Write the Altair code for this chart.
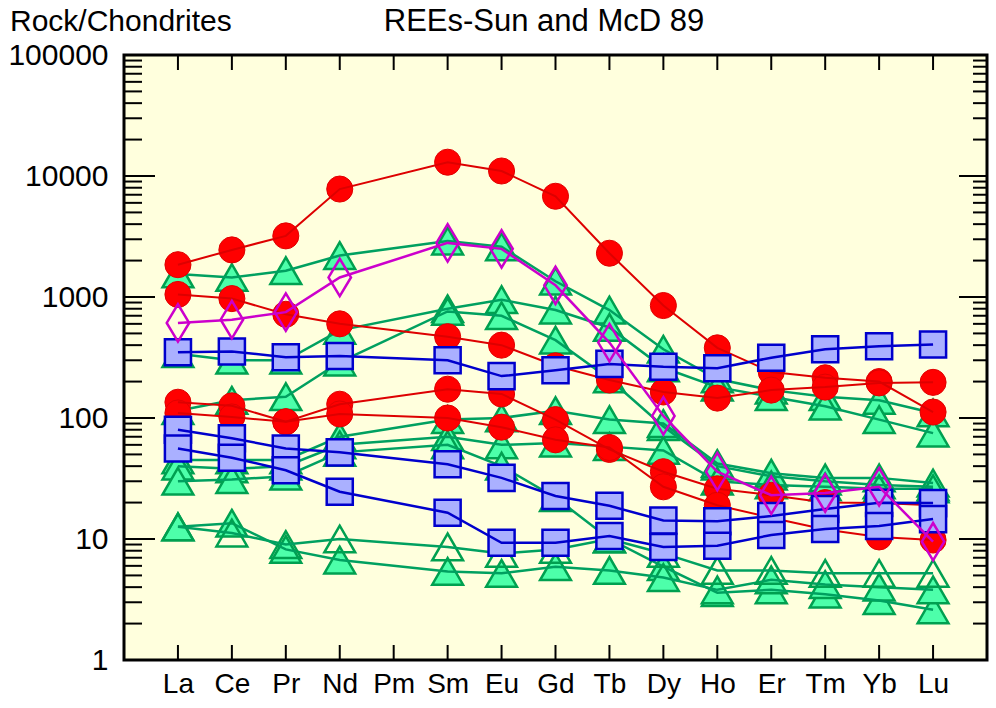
import altair as alt
import pandas as pd

elements = ["La", "Ce", "Pr", "Nd", "Pm", "Sm", "Eu", "Gd", "Tb", "Dy", "Ho", "Er", "Tm", "Yb", "Lu"]

# red circles
red_1 = [1850, 2450, 3200, 7800, None, 13000, 11000, 6800, 2300, 850, 380, 240, 215, 200, 112]
red_2 = [1050, 970, 720, 600, None, 470, 400, 270, 206, 164, 146, 170, 180, 195, 197]
red_3 = [135, 126, 93, 130, None, 173, 158, 97, 55, 36, 26, 23, 20, 19.8, 19]
red_4 = [110, 102, 93, 108, None, 100, 84, 66, 57, 27, 19, 15, 12, 10.4, 9.8]

# blue squares
blue_1 = [350, 355, 318, 325, None, 300, 222, 248, 280, 265, 258, 315, 370, 392, 405]
blue_2 = [80, 68, 56, 52, None, 41.5, 32, 22.7, 18.8, 14.2, 14, 15.5, 17.7, 19.9, 19.8]
blue_3 = [56, 47, 37, 24.6, None, 16.5, 9.3, 9.3, 10.6, 8.6, 8.8, 10.8, 12.1, 12.8, 14.6]

# magenta open diamond
magenta_1 = [610, 650, 750, 1450, None, 2800, 2500, 1250, 420, 104, 36, 23, 24, 27, 9.5]

# green filled triangles
green_1 = [1550, 1450, 1650, 2200, None, 2900, 2600, 1350, 780, 370, 210, 170, 150, 140, 110]
green_2 = [340, 300, 300, 530, None, 800, 950, 780, 560, 260, 180, 150, 125, 97, 75]
green_3 = [115, 140, 150, 290, None, 760, 700, 440, 210, 85, 40, 33, 30, 28, 27]
green_4 = [45, 45, 45, 70, None, 97, 100, 115, 97, 90, 42, 35, 32, 32, 29]
green_5 = [40, 38, 40, 60, None, 70, 60, 62, 58, 54, 30, 28, 27, 26, 26]
green_6 = [30, 31, 33, 52, None, 60, 40, 22, 10, 5.9, 3.6, 3.8, 3.5, 3.1, 2.6]
green_7 = [12.6, 13.5, 8.2, 6.7, None, 5.4, 5.2, 5.9, 5.5, 4.8, 3.8, 4.6, 4.2, 4.0, 3.8]

# green open triangles
green_open_1 = [12.6, 11.2, 9.0, 10.0, None, 8.6, 7.6, 8.2, 10.0, 7.6, 5.5, 5.5, 5.2, 5.2, 5.2]

major_ticks = [1, 10, 100, 1000, 10000, 100000]
minor_ticks = [m * 10 ** e for e in range(5) for m in range(2, 10)]

groups = {
    "green": [green_1, green_2, green_3, green_4, green_5, green_6, green_7],
    "greenopen": [green_open_1],
    "red": [red_1, red_2, red_3, red_4],
    "blue": [blue_1, blue_2, blue_3],
    "magenta": [magenta_1],
}

rows = []
for g, series_list in groups.items():
    for k, vals in enumerate(series_list):
        for i, v in enumerate(vals):
            if v is not None:
                rows.append({"group": g, "series": f"{g}{k}", "element": elements[i], "idx": i, "value": v})
df = pd.DataFrame(rows)

FONT = "Liberation Sans"
W, H = 863, 605

X = alt.X("element:O",
          scale=alt.Scale(type="point", domain=elements, padding=1),
          axis=alt.Axis(title=None, labelAngle=0, ticks=False, domain=False, grid=False,
                        labelFontSize=28, labelFont=FONT, labelColor="black", labelPadding=10))
Y = alt.Y("value:Q",
          scale=alt.Scale(type="log", domain=[1, 100000]),
          axis=alt.Axis(title=None, values=major_ticks, format="d", ticks=False, domain=False,
                        grid=False, labelFontSize=30, labelFont=FONT, labelColor="black",
                        labelPadding=16, labelOverlap=False, labelFlush=False))

base = alt.Chart(df)


def points(group, **kw):
    return base.transform_filter(alt.datum.group == group).mark_point(opacity=1, **kw).encode(x=X, y=Y, detail="series:N")


def lines(group, color, width):
    return base.transform_filter(alt.datum.group == group).mark_line(color=color, strokeWidth=width).encode(
        x=X, y=Y, detail="series:N", order="idx:Q")


ytick_major = pd.DataFrame({"value": major_ticks})
ytick_minor = pd.DataFrame({"value": minor_ticks})
xticks = pd.DataFrame({"element": elements})

tick_layers = [
    alt.Chart(ytick_major).mark_rule(color="black", strokeWidth=2).encode(y=Y, x=alt.value(0), x2=alt.value(31)),
    alt.Chart(ytick_minor).mark_rule(color="black", strokeWidth=2).encode(y=Y, x=alt.value(0), x2=alt.value(18)),
    alt.Chart(ytick_major).mark_rule(color="black", strokeWidth=2).encode(y=Y, x=alt.value(W - 28), x2=alt.value(W)),
    alt.Chart(ytick_minor).mark_rule(color="black", strokeWidth=2).encode(y=Y, x=alt.value(W - 14), x2=alt.value(W)),
    alt.Chart(xticks).mark_rule(color="black", strokeWidth=2).encode(x=X, y=alt.value(0), y2=alt.value(15)),
    alt.Chart(xticks).mark_rule(color="black", strokeWidth=2).encode(x=X, y=alt.value(H - 15), y2=alt.value(H)),
]

diamond = "M0,-1L0.6,0L0,1L-0.6,0Z"

data_layers = [
    points("green", shape="triangle-up", filled=True, fill="#4DFFAA", stroke="#00A050", strokeWidth=2.5, size=950),
    lines("green", "#00A060", 2.5),
    points("greenopen", shape="triangle-up", filled=False, stroke="#00A050", strokeWidth=2.5, size=950),
    lines("greenopen", "#00A060", 2.5),
    points("red", shape="circle", filled=True, fill="#FF0000", stroke="#E00000", strokeWidth=1, size=680),
    lines("red", "#DD0000", 2),
    points("blue", shape="square", filled=True, fill="#AAB0FF", stroke="#0000CC", strokeWidth=2.5, size=680),
    lines("blue", "#0000CC", 2.5),
    points("magenta", shape=diamond, filled=False, stroke="#CC00CC", strokeWidth=2.5, size=1400),
    lines("magenta", "#CC00CC", 2.5),
]

title_df = pd.DataFrame({"t": ["REEs-Sun and McD 89"]})
ytitle_df = pd.DataFrame({"t": ["Rock/Chondrites"]})
text_layers = [
    alt.Chart(title_df).mark_text(font=FONT, fontSize=31, color="black", align="center", baseline="alphabetic").encode(
        text="t:N", x=alt.value(420), y=alt.value(-24)),
    alt.Chart(ytitle_df).mark_text(font=FONT, fontSize=30, color="black", align="left", baseline="alphabetic").encode(
        text="t:N", x=alt.value(-114), y=alt.value(-24)),
]

chart = alt.layer(*tick_layers, *data_layers, *text_layers).properties(
    width=W, height=H,
    padding={"left": 124, "top": 55, "right": 9, "bottom": 48},
    autosize=alt.AutoSizeParams(type="none"),
    background="white",
).configure_view(fill="#FFFFDD", stroke="black", strokeWidth=3)

chart.save("out.html", embed_options={"renderer": "svg", "actions": False})
